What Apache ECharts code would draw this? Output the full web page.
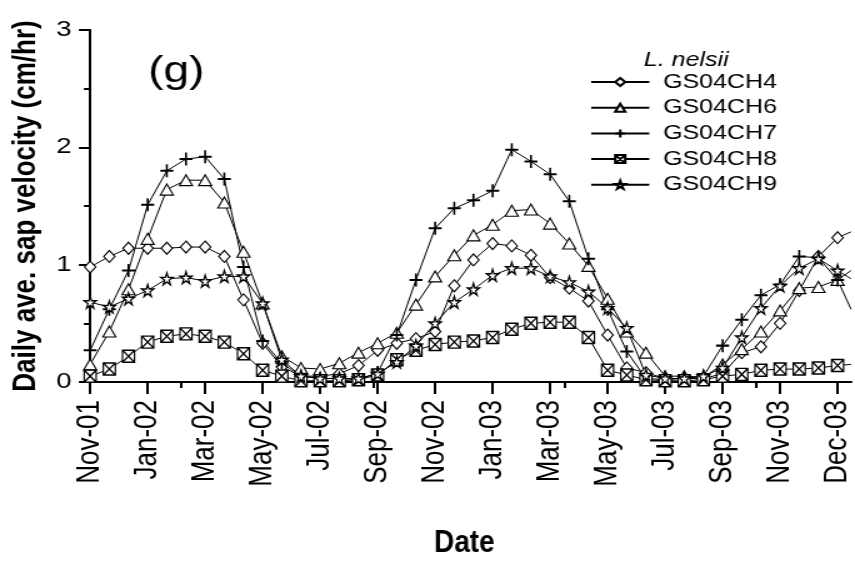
<!DOCTYPE html>
<html>
<head>
<meta charset="utf-8">
<script src="https://cdn.jsdelivr.net/npm/echarts@6/dist/echarts.min.js"></script>
<style>
  html, body { margin: 0; padding: 0; background: #fff; overflow: hidden; }
  /* The figure is drawn on a narrower canvas and widened horizontally, giving its wide lettering */
  #chart { width: 684px; height: 561px; transform: scaleX(1.25); transform-origin: 0 0; }
</style>
</head>
<body>
<div id="chart"></div>
<script>
// Sampling dates (every 20 days); the last entry is the end of the record, drawn without a marker
const sampleDates = [
  '2001-11-11','2001-12-01','2001-12-21','2002-01-10','2002-01-30','2002-02-19','2002-03-11','2002-03-31',
  '2002-04-20','2002-05-10','2002-05-30','2002-06-19','2002-07-09','2002-07-29','2002-08-18','2002-09-07',
  '2002-09-27','2002-10-17','2002-11-06','2002-11-26','2002-12-16','2003-01-05','2003-01-25','2003-02-14',
  '2003-03-06','2003-03-26','2003-04-15','2003-05-05','2003-05-25','2003-06-14','2003-07-04','2003-07-24',
  '2003-08-13','2003-09-02','2003-09-22','2003-10-12','2003-11-01','2003-11-21','2003-12-11','2003-12-31',
  '2004-01-14'
];

// Daily average sap velocity (cm/hr)
const ch4 = [0.98,1.07,1.14,1.14,1.14,1.15,1.15,1.07,0.70,0.33,0.13,0.05,0.05,0.07,0.14,0.27,0.33,0.37,0.43,0.82,
             1.04,1.18,1.16,1.08,0.89,0.80,0.69,0.40,0.12,0.08,0.03,0.03,0.03,0.07,0.25,0.30,0.50,0.78,1.07,1.23,1.28];
const ch6 = [0.15,0.43,0.79,1.22,1.64,1.72,1.72,1.53,1.11,0.67,0.22,0.12,0.11,0.16,0.25,0.33,0.42,0.66,0.90,1.08,
             1.25,1.34,1.46,1.47,1.35,1.18,0.99,0.71,0.43,0.25,0.05,0.05,0.04,0.15,0.28,0.43,0.61,0.80,0.81,0.87,0.95];
const ch7 = [0.27,0.62,0.95,1.51,1.80,1.90,1.92,1.73,0.98,0.35,0.16,0.05,0.03,0.03,0.02,0.08,0.40,0.87,1.31,1.48,
             1.55,1.63,1.98,1.88,1.77,1.54,1.05,0.62,0.26,0.03,0.02,0.03,0.05,0.31,0.53,0.74,0.83,1.07,1.06,0.87,0.62];
const ch8 = [0.05,0.11,0.22,0.34,0.39,0.41,0.39,0.34,0.24,0.10,0.05,0.01,0.01,0.01,0.02,0.06,0.19,0.27,0.32,0.34,
             0.35,0.38,0.45,0.50,0.51,0.51,0.38,0.10,0.06,0.02,0.01,0.01,0.02,0.05,0.065,0.10,0.11,0.11,0.12,0.14,0.15];
const ch9 = [0.68,0.64,0.71,0.78,0.88,0.89,0.86,0.90,0.90,0.67,0.19,0.05,0.03,0.03,0.03,0.07,0.17,0.31,0.50,0.68,
             0.79,0.91,0.97,0.97,0.90,0.85,0.77,0.63,0.46,0.06,0.03,0.03,0.05,0.12,0.38,0.63,0.82,0.97,1.05,0.95,0.88];

const seriesNames = ['GS04CH4','GS04CH6','GS04CH7','GS04CH8','GS04CH9'];

// Bottom axis ticks and labels
const tickDates = ['2001-11-11','2002-01-10','2002-03-11','2002-05-10','2002-07-09','2002-09-07','2002-11-06',
                   '2003-01-05','2003-03-06','2003-05-05','2003-07-04','2003-09-02','2003-11-01','2003-12-31'];
const tickLabels = ['Nov-01','Jan-02','Mar-02','May-02','Jul-02','Sep-02','Nov-02',
                    'Jan-03','Mar-03','May-03','Jul-03','Sep-03','Nov-03','Dec-03'];
// Ticks on the top frame
const topTickDates = ['2002-02-14','2002-09-02','2003-03-21','2003-10-07'];

const yTicks = [0, 1, 2, 3];

// Dates are placed on a day-count axis measured from the first sample
const DAY = 86400000;
const toTime = s => { const p = s.split('-').map(Number); return Date.UTC(p[0], p[1] - 1, p[2]); };
const origin = toTime(sampleDates[0]);
const toDay = s => Math.round((toTime(s) - origin) / DAY);
const tickDays = tickDates.map(toDay);
const topTickDays = topTickDates.map(toDay);
const xMax = toDay(sampleDates[sampleDates.length - 1]);

const symbols = {
  diamond: 'diamond',
  triangle: 'triangle',
  plus: 'path://M50,0V100M0,50H100',
  boxX: 'path://M0,0H100V100H0Z M0,0L100,100 M100,0L0,100',
  star: 'path://M50,0L61,35L98,35L68,57L79,91L50,70L21,91L32,57L2,35L39,35Z'
};

function makeSeries(name, values, symbol, size, bw) {
  const data = values.map((v, i) => {
    const item = { value: [toDay(sampleDates[i]), v] };
    if (i === values.length - 1) item.symbol = 'none';
    return item;
  });
  return {
    name: name,
    type: 'line',
    data: data,
    symbol: symbol,
    symbolSize: size,
    symbolKeepAspect: false,
    showAllSymbol: true,
    lineStyle: { color: '#000', width: 1 },
    itemStyle: { color: '#fff', borderColor: '#000', borderWidth: bw },
    emphasis: { disabled: true },
    animation: false
  };
}

const chart = echarts.init(document.getElementById('chart'), null, { renderer: 'canvas' });

const baseFont = 'Arial, "Liberation Sans", sans-serif';

const option = {
  backgroundColor: '#fff',
  animation: false,
  textStyle: { fontFamily: baseFont, color: '#000' },
  title: [
    { text: '(g)', left: 136, top: 67, textAlign: 'center', textVerticalAlign: 'middle',
      textStyle: { fontSize: 37, fontWeight: 'normal', color: '#000', fontFamily: baseFont } },
    { text: 'L. nelsii', left: 544, top: 55, textAlign: 'center', textVerticalAlign: 'middle',
      textStyle: { fontSize: 20, fontStyle: 'italic', fontWeight: 'normal', color: '#000', fontFamily: baseFont } }
  ],
  graphic: [
    { type: 'text', x: 371.5, y: 543, scaleX: 0.7,
      style: { text: 'Date', font: 'bold 32px Arial, "Liberation Sans", sans-serif', fill: '#000',
               textAlign: 'center', textVerticalAlign: 'middle' } }
  ],
  legend: {
    orient: 'vertical',
    left: 467,
    top: 67,
    itemWidth: 46.4,
    itemHeight: 10,
    itemGap: 5.7,
    data: seriesNames,
    textStyle: { fontSize: 20, lineHeight: 20, color: '#000', padding: [0, 0, 0, 6], fontFamily: baseFont },
    selectedMode: false
  },
  grid: { left: 63.2, right: 3.2, top: 30, bottom: 179 },
  xAxis: [
    {
      type: 'value',
      min: 0,
      max: xMax,
      position: 'bottom',
      axisLine: { lineStyle: { color: '#000', width: 2 } },
      axisTick: { show: true, inside: false, length: 12, lineStyle: { color: '#000', width: 2 }, customValues: tickDays },
      axisLabel: {
        rotate: 90,
        margin: 18,
        fontSize: 26,
        color: '#000',
        customValues: tickDays,
        formatter: v => { const k = tickDays.indexOf(v); return k >= 0 ? tickLabels[k] : ''; }
      },
      splitLine: { show: false }
    },
    {
      type: 'value',
      min: 0,
      max: xMax,
      position: 'top',
      axisLine: { lineStyle: { color: '#000', width: 2 } },
      axisTick: { show: true, inside: true, length: 6, lineStyle: { color: '#000', width: 2 }, customValues: topTickDays },
      axisLabel: { show: false },
      splitLine: { show: false }
    }
  ],
  yAxis: [
    {
      type: 'value',
      min: 0,
      max: 3,
      interval: 1,
      position: 'left',
      name: 'Daily ave. sap velocity (cm/hr)',
      nameLocation: 'middle',
      nameGap: 35,
      nameTextStyle: { fontSize: 26, fontWeight: 'bold', color: '#000' },
      axisLine: { show: true, lineStyle: { color: '#000', width: 2 } },
      axisTick: { show: true, inside: false, length: 9, lineStyle: { color: '#000', width: 2 } },
      minorTick: { show: true, splitNumber: 2, length: 5, lineStyle: { color: '#000', width: 2 } },
      axisLabel: { margin: 15, fontSize: 22, color: '#000',
                   formatter: v => (yTicks.indexOf(v) >= 0 ? String(v) : '') },
      splitLine: { show: false }
    },
    {
      type: 'value',
      min: 0,
      max: 3,
      interval: 1,
      position: 'right',
      axisLine: { show: true, lineStyle: { color: '#000', width: 2 } },
      axisTick: { show: false },
      axisLabel: { show: false },
      splitLine: { show: false }
    }
  ],
  series: [
    makeSeries(seriesNames[0], ch4, symbols.diamond, [9, 12], 1.1),
    makeSeries(seriesNames[1], ch6, symbols.triangle, [10.4, 11], 1.1),
    makeSeries(seriesNames[2], ch7, symbols.plus, [10.4, 13], 1.8),
    makeSeries(seriesNames[3], ch8, symbols.boxX, [9.6, 12], 1.3),
    makeSeries(seriesNames[4], ch9, symbols.star, [9.6, 12], 1.3)
  ]
};

chart.setOption(option);
</script>
</body>
</html>
